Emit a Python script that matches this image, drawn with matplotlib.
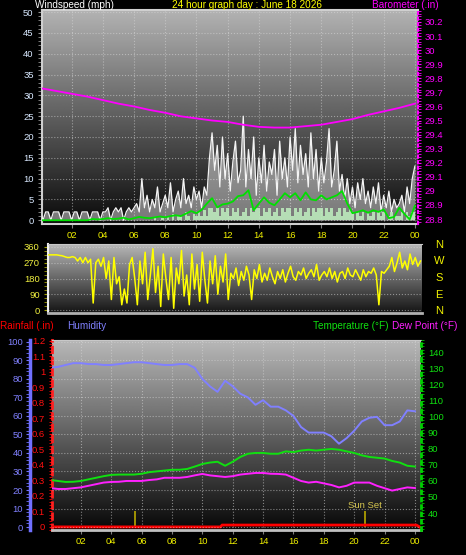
import numpy as np
import matplotlib
matplotlib.use("Agg")
import matplotlib.pyplot as plt
from matplotlib.ticker import MultipleLocator

plt.rcParams["font.family"] = ["Liberation Sans", "DejaVu Sans"]

# ---- data ----
tick_hours = [2, 4, 6, 8, 10, 12, 14, 16, 18, 20, 22, 24]
tick_names = ["02", "04", "06", "08", "10", "12", "14", "16", "18", "20", "22", "00"]

# wind gust (mph), every 10 minutes
gust = [2, 0, 2, 2, 0, 2,   2, 2, 0, 2, 2, 2,   0, 2, 2, 0, 2, 2,   2, 0, 2, 2, 2, 0,
        2, 2, 3, 0, 2, 3,   2, 3, 0, 2, 3, 2,   3, 4, 2, 10, 3, 6,  2, 5, 3, 8, 2, 4,
        6, 3, 9, 2, 5, 7,   3, 10, 4, 6, 3, 8,  5, 7, 3, 8, 6, 15,  21, 12, 18, 8, 20, 10,
        16, 7, 14, 19, 9, 12,  25, 8, 17, 10, 20, 6,  15, 9, 18, 7, 14, 11,  17, 6, 19, 10, 15, 8,
        20, 12, 22, 9, 18, 11,  16, 8, 21, 10, 17, 7,  15, 9, 14, 22, 8, 12,  19, 7, 11, 5, 10, 4,
        8, 3, 9, 5, 10, 4,  7, 3, 8, 4, 9, 2,  6, 3, 7, 2, 5, 3,  4, 6, 2, 8, 4, 10,  13]

# wind speed (mph), every 10 minutes
wind_speed = [0] * 42 + [
    0, 0, 0.5, 0, 0, 0.5,   0, 1, 0, 1.5, 0, 1,   1, 0, 2, 1, 0, 1.5,
    1, 2, 1, 2.5, 1, 3,   3, 2, 3, 1, 3, 2,   3, 1, 3, 2, 3, 1,
    2, 3, 1, 3, 2, 3,   3, 1, 3, 2, 3, 1,   2, 3, 1, 3, 2, 3,
    3, 1, 3, 2, 3, 1,   2, 3, 1, 3, 2, 3,   3, 1, 3, 2, 3, 1,   2, 3, 1, 3, 2, 3,
    2, 0, 2, 1, 2, 0,   2, 1, 2, 0, 2, 1,   2, 0, 1, 2, 0, 1,   1, 2, 0, 2, 1, 2,  2]

# average wind (mph), every 20 minutes
wind_avg = [0, 0, 0,  0, 0, 0,  0, 0, 0,  0, 0.3, 0.2,  0.3, 0.5, 0.3,  0.4, 0.6, 0.2,
            0.5, 0.8, 0.6,  0.5, 0.7, 0.9,  0.7, 1.0, 1.2,  1.0, 1.6, 2.2,  1.7, 2.5, 4.0,
            5.3, 3.1, 3.8,  4.0, 4.5, 5.8,  6.0, 7.2, 2.4,  4.0, 5.5, 4.2,  3.6, 5.0, 6.5,
            5.5, 6.5, 4.8,  6.7, 5.0, 4.8,  6.0, 5.0, 5.5,  6.0, 7.0, 4.0,  1.7, 2.0, 2.4,
            1.8, 2.4, 2.0,  2.6, 0.5, 0.8,  3.0, 1.5, 0.2,  3.5]

# barometer (in), hourly
baro = [29.73, 29.71, 29.69, 29.67, 29.645, 29.62, 29.60, 29.575, 29.555, 29.53, 29.515,
        29.50, 29.49, 29.47, 29.455, 29.45, 29.45, 29.46, 29.47, 29.49, 29.51, 29.54,
        29.565, 29.59, 29.62]

# wind direction (deg), every 10 minutes
wind_dir = [315, 315, 315, 315, 315, 312,  310, 305, 300, 300, 305, 300,
            280, 300, 270, 300, 270, 290,  40, 270, 290, 250, 300, 180,
            280, 60, 300, 150, 190, 30,  120, 40, 260, 300, 180, 30,
            280, 150, 330, 60, 200, 350,  100, 250, 20, 320, 180, 60,
            300, 10, 240, 150, 340, 80,  200, 30, 320, 120, 260, 50,
            330, 170, 40, 280, 150, 310,  90, 250, 160, 320, 60, 210,
            180, 240, 140, 220, 170, 250,  200, 60, 230, 180, 260, 160,
            210, 170, 240, 190, 150, 220,  180, 230, 160, 210, 250, 190,
            170, 220, 200, 240, 180, 210,  230, 190, 260, 170, 200, 220,
            190, 240, 180, 220, 160, 210,  220, 180, 240, 200, 190, 230,
            200, 170, 230, 190, 220, 210,  240, 200, 30, 220, 210, 230,
            250, 300, 220, 270, 330, 240,  280, 230, 320, 260, 300, 250,  280]

# humidity (%), every 30 minutes
humidity = [86, 86.5, 87.5, 88.5, 88.5, 88, 88, 87.5, 87.5, 88, 88.5, 89, 89, 88.5,
            88, 87.5, 87.5, 88, 88, 86, 80, 76, 73, 79, 76, 72, 70, 66, 68.5, 65,
            65, 63, 60, 54, 51, 51, 51, 49, 45, 48, 52, 57, 59, 59.5, 55, 55, 57, 63, 62.5]

# temperature (F), every 30 minutes
temperature = [60.6, 60, 59.4, 59.5, 60, 61, 62, 63, 63.8, 64, 64, 64, 64.5, 65.5,
               66, 66.5, 67, 67, 67.5, 69, 70.6, 71.5, 72, 69.5, 72, 75, 77, 77.5,
               77.5, 77, 77, 78.5, 78, 79, 79.5, 79, 79.5, 80, 79.5, 78.5, 77.5, 76,
               75, 74.5, 74, 72.5, 71.5, 69.5, 69]

# dew point (F), every 30 minutes
dew_point = [55.6, 55, 55, 55.5, 56, 57, 58, 59, 59.4, 59.5, 60, 60, 60, 60.6, 61,
             62, 62, 62, 62.5, 63.5, 64.4, 63.5, 63, 62.5, 63, 64, 64.5, 65, 65,
             64.5, 64.4, 64, 62, 60, 59, 59.5, 58.5, 57.5, 56, 57, 59, 59, 59, 57,
             55.5, 54, 55, 56, 55.6]

# rainfall (in)
rain_hours = [0, 11.2, 11.3, 24.1, 24.3]
rain = [0, 0, 0.012, 0.012, 0]

sunrise = 5.55
sunset = 20.7

t10 = np.linspace(0, 24, len(gust))
t20 = np.linspace(0, 24, len(wind_avg))
t60 = np.linspace(0, 24, len(baro))
t30 = np.linspace(0, 24, len(humidity))

W, H = 466, 555


def box(x0, y0, x1, y1):
    return [x0 / W, 1 - y1 / H, (x1 - x0) / W, (y1 - y0) / H]


def shade(ax, top, bottom):
    grad = np.linspace(top, bottom, 256).reshape(-1, 1)
    ax.imshow(grad, cmap="gray", vmin=0, vmax=1, extent=(0, 1, 0, 1),
              transform=ax.transAxes, aspect="auto", zorder=0)


fig = plt.figure(figsize=(W / 100, H / 100), dpi=100, facecolor="black")
fs = 6.8
grid_kw = dict(color="#d8d8d8", linestyle=":", linewidth=0.8, alpha=0.55)

# ---------- panel 1 : wind + barometer ----------
ax1 = fig.add_axes(box(42, 10, 418, 224))
shade(ax1, 0.70, 0.04)
ax1.fill_between(t10, 0, gust, color="white", alpha=0.45, lw=0, zorder=2)
ax1.plot(t10, gust, color="#f4f4f4", lw=0.9, zorder=3)
ax1.fill_between(t10, 0, wind_speed, step="mid", color="#c0f0c0", alpha=0.85, lw=0, zorder=4)
ax1.plot(t20, wind_avg, color="#00e000", lw=1.3, zorder=5)
ax1.set_xlim(0.1, 24.2)
ax1.set_ylim(-0.9, 50.5)
ax1.set_xticks(tick_hours)
ax1.set_xticklabels(tick_names)
ax1.set_yticks(range(0, 51, 5))
ax1.yaxis.set_minor_locator(MultipleLocator(1))
ax1.tick_params(axis="x", colors="#808080", labelcolor="#f0f000", labelsize=fs, length=3, pad=2)
ax1.tick_params(axis="y", which="both", colors="#909090", labelcolor="#d8e8ff", labelsize=fs, length=3, pad=3)
ax1.grid(True, **grid_kw)
for s in ["left", "bottom", "top"]:
    ax1.spines[s].set_color("#d0d0d0")
    ax1.spines[s].set_linewidth(1.5)
ax1.spines["right"].set_visible(False)

ax1b = ax1.twinx()
ax1b.plot(t60, baro, color="#ff00ff", lw=1.3)
ax1b.set_ylim(28.765, 30.285)
ax1b.set_yticks(np.round(np.arange(28.8, 30.25, 0.1), 1))
ax1b.set_yticklabels([f"{v:g}" for v in np.round(np.arange(28.8, 30.25, 0.1), 1)])
ax1b.yaxis.set_minor_locator(MultipleLocator(0.02))
ax1b.tick_params(axis="y", which="both", colors="#ff00ff", labelcolor="#ff00ff", labelsize=fs, length=2, pad=3)
ax1b.spines["right"].set_color("#ff00ff")
ax1b.spines["right"].set_linestyle(":")
ax1b.spines["right"].set_linewidth(1.5)
for s in ["left", "bottom", "top"]:
    ax1b.spines[s].set_visible(False)

# ---------- panel 2 : wind direction ----------
ax2 = fig.add_axes(box(48, 244, 422, 313))
shade(ax2, 0.72, 0.08)
ax2.plot(t10, wind_dir, color="#ffff00", lw=1.1, zorder=3)
ax2.set_xlim(0.1, 24.1)
ax2.set_ylim(-17, 377)
ax2.set_xticks(tick_hours)
ax2.set_xticklabels([])
ax2.set_yticks([0, 90, 180, 270, 360])
ax2.yaxis.set_minor_locator(MultipleLocator(22.5))
ax2.tick_params(axis="x", length=0)
ax2.tick_params(axis="y", which="both", colors="#a0a000", labelcolor="#f0f040", labelsize=fs, length=3, pad=3)
ax2.grid(True, axis="y", **grid_kw)
ax2.spines["left"].set_color("#f0f0f0")
ax2.spines["left"].set_linewidth(1.5)
ax2.spines["bottom"].set_color("#b0b0b0")
ax2.spines["bottom"].set_linewidth(2)
ax2.spines["top"].set_color("#c8c8c8")
ax2.spines["right"].set_visible(False)

for lab, yy in zip(["N", "W", "S", "E", "N"], [245, 261, 278, 295, 311]):
    fig.text(439 / W, 1 - yy / H, lab, color="#f0f000", fontsize=8, ha="center", va="center")

# ---------- panel 3 : rain, humidity, temperature, dew point ----------
ax3 = fig.add_axes(box(52, 340, 421, 530))
shade(ax3, 0.72, 0.03)
ax3.plot(rain_hours, rain, color="#ff0000", lw=2, zorder=4)
ax3.vlines([sunrise, sunset], 0, 0.1, color="#b8a800", lw=1.2, zorder=3)
ax3.text(sunset, 0.11, "Sun Set", color="#d8c850", fontsize=fs, ha="center", va="bottom", zorder=5)
ax3.set_xlim(0.1, 24.4)
ax3.set_ylim(-0.02, 1.206)
ax3.set_xticks(tick_hours)
ax3.set_xticklabels(tick_names)
rain_ticks = np.round(np.arange(0, 1.25, 0.1), 1)
ax3.set_yticks(rain_ticks)
ax3.set_yticklabels([f"{v:g}" for v in rain_ticks])
ax3.yaxis.set_minor_locator(MultipleLocator(0.02))
ax3.tick_params(axis="x", colors="#808080", labelcolor="#f0f000", labelsize=fs, length=3, pad=2)
ax3.tick_params(axis="y", which="both", colors="#ff0000", labelcolor="#ff1010", labelsize=fs, length=2, pad=3)
ax3.grid(True, axis="x", **grid_kw)
ax3.spines["left"].set_color("#ff2020")
ax3.spines["left"].set_linestyle((0, (2, 2)))
ax3.spines["left"].set_linewidth(2)
ax3.spines["bottom"].set_color("#c0c0c0")
ax3.spines["bottom"].set_linewidth(2)
ax3.spines["top"].set_color("#c8c8c8")
ax3.spines["right"].set_visible(False)

ax3h = ax3.twinx()
ax3h.plot(t30, humidity, color="#8080ff", lw=1.4)
ax3h.set_ylim(-1.6, 101)
ax3h.set_yticks(range(0, 101, 10))
ax3h.yaxis.set_minor_locator(MultipleLocator(2))
ax3h.yaxis.set_ticks_position("left")
ax3h.yaxis.set_label_position("left")
ax3h.spines["left"].set_position(("outward", 16))
ax3h.spines["left"].set_visible(True)
ax3h.spines["left"].set_color("#7070ff")
ax3h.spines["left"].set_linewidth(2.5)
for s in ["right", "top", "bottom"]:
    ax3h.spines[s].set_visible(False)
ax3h.tick_params(axis="y", which="both", colors="#7070ff", labelcolor="#8080ff", labelsize=fs, length=3, pad=2)
ax3h.grid(True, axis="y", **grid_kw)

ax3t = ax3.twinx()
ax3t.plot(t30, temperature, color="#10e010", lw=1.4)
ax3t.plot(t30, dew_point, color="#ff20ff", lw=1.4)
ax3t.set_ylim(29.4, 148)
ax3t.set_yticks(range(40, 141, 10))
ax3t.yaxis.set_minor_locator(MultipleLocator(2))
ax3t.tick_params(axis="y", which="both", colors="#00c000", labelcolor="#10e010", labelsize=fs, length=2, pad=3)
ax3t.spines["right"].set_color("#00d000")
ax3t.spines["right"].set_linestyle(":")
ax3t.spines["right"].set_linewidth(2)
for s in ["left", "top", "bottom"]:
    ax3t.spines[s].set_visible(False)

# ---------- titles ----------
def label(x, y, s, c, **kw):
    fig.text(x / W, 1 - y / H, s, color=c, fontsize=7.2, va="center", **kw)

label(35, 5, "Windspeed (mph)", "white")
label(172, 5, "24 hour graph day : June 18 2026", "#ffff00")
label(372, 5, "Barometer (.in)", "#ff00ff")
label(0, 326, "Rainfall (.in)", "#ff0000")
label(67, 326, "Humidity", "#8080ff")
label(313, 326, "Temperature (°F)", "#10e010")
label(392, 326, "Dew Point (°F)", "#ff20ff")

fig.savefig("out.png", dpi=100, facecolor="black")
